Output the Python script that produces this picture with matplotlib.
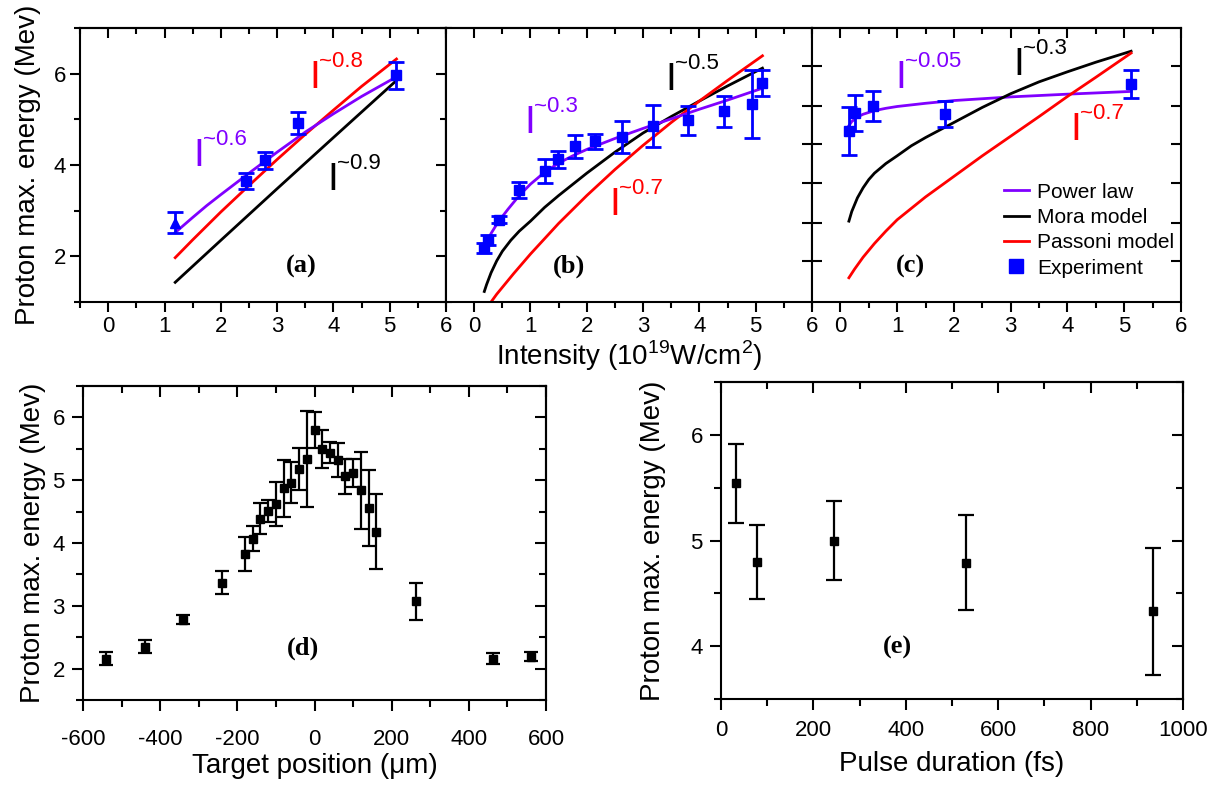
import matplotlib.pyplot as plt
from matplotlib.lines import Line2D
from matplotlib.ticker import MultipleLocator, FixedLocator

plt.rcParams['font.family'] = ['Liberation Sans', 'DejaVu Sans']
plt.rcParams['mathtext.fontset'] = 'custom'
plt.rcParams['mathtext.rm'] = 'Liberation Sans'
plt.rcParams['axes.linewidth'] = 1.5
plt.rcParams['axes.unicode_minus'] = False

PURPLE = '#8000ff'
BLUE = '#0000ff'
RED = '#ff0000'

# ---- (a) intensity scan, first data set
a_tri_x = [1.19]
a_tri_y = [2.74]
a_tri_err = [0.24]
a_exp_x = [2.44, 2.78, 3.375, 5.12]
a_exp_y = [3.65, 4.10, 4.92, 5.96]
a_exp_err = [0.18, 0.18, 0.24, 0.29]
a_pow_x = [1.19, 1.35, 1.5, 1.75, 2.0, 2.5, 3.0, 3.5, 4.0, 4.5, 5.12]
a_pow_y = [2.52, 2.69, 2.85, 3.11, 3.35, 3.82, 4.28, 4.72, 5.12, 5.50, 5.93]
a_mora_x = [1.19, 2.0, 3.0, 4.0, 5.12]
a_mora_y = [1.43, 2.35, 3.48, 4.60, 5.85]
a_pass_x = [1.19, 1.5, 2.0, 2.5, 3.0, 3.5, 4.0, 4.5, 5.12]
a_pass_y = [1.97, 2.36, 2.97, 3.55, 4.12, 4.67, 5.20, 5.72, 6.32]

# ---- (b)
b_exp_x = [0.18, 0.24, 0.44, 0.79, 1.25, 1.48, 1.79, 2.15, 2.62, 3.18, 3.79, 4.44, 4.94, 5.12]
b_exp_y = [2.18, 2.36, 2.80, 3.45, 3.86, 4.12, 4.41, 4.52, 4.61, 4.86, 4.98, 5.18, 5.34, 5.80]
b_exp_err = [0.11, 0.11, 0.08, 0.17, 0.26, 0.19, 0.25, 0.16, 0.35, 0.46, 0.32, 0.34, 0.75, 0.28]
b_pow_x = [0.18, 0.24, 0.3, 0.4, 0.5, 0.6, 0.8, 1.0, 1.25, 1.5, 1.75, 2.0, 2.5, 3.0, 3.5,
           4.0, 4.5, 5.12]
b_pow_y = [2.16, 2.35, 2.50, 2.70, 2.87, 3.03, 3.33, 3.58, 3.84, 4.04, 4.20, 4.34, 4.58,
           4.80, 5.01, 5.22, 5.42, 5.68]
b_mora_x = [0.18, 0.22, 0.3, 0.4, 0.5, 0.65, 0.8, 1.0, 1.25, 1.5, 2.0, 2.5, 3.0, 3.5, 4.0,
            4.5, 5.12]
b_mora_y = [1.23, 1.38, 1.64, 1.90, 2.11, 2.35, 2.55, 2.77, 3.07, 3.33, 3.82, 4.28, 4.70,
            5.06, 5.40, 5.73, 6.12]
b_pass_x = [0.3, 0.4, 0.5, 0.7, 1.0, 1.5, 2.0, 2.5, 3.0, 3.5, 4.0, 4.5, 5.12]
b_pass_y = [1.00, 1.17, 1.32, 1.62, 2.05, 2.72, 3.33, 3.90, 4.43, 4.93, 5.40, 5.85, 6.39]

# ---- (c)
c_exp_x = [0.15, 0.25, 0.58, 1.85, 5.12]
c_exp_y = [4.74, 5.14, 5.30, 5.12, 5.77]
c_exp_err = [0.52, 0.39, 0.33, 0.29, 0.31]
c_pow_x = [0.15, 0.2, 0.3, 0.4, 0.6, 0.8, 1.0, 1.5, 2.0, 3.0, 4.0, 5.12]
c_pow_y = [4.86, 4.95, 5.05, 5.11, 5.19, 5.24, 5.28, 5.35, 5.41, 5.49, 5.55, 5.61]
c_mora_x = [0.15, 0.2, 0.3, 0.4, 0.5, 0.6, 0.8, 1.0, 1.25, 1.5, 2.0, 2.5, 3.0, 3.5, 4.0,
            4.5, 5.12]
c_mora_y = [2.77, 2.98, 3.28, 3.50, 3.68, 3.82, 4.03, 4.20, 4.42, 4.60, 4.93, 5.26, 5.56,
            5.82, 6.04, 6.25, 6.49]
c_pass_x = [0.15, 0.25, 0.4, 0.6, 0.8, 1.0, 1.5, 2.0, 2.5, 3.0, 3.5, 4.0, 4.5, 5.12]
c_pass_y = [1.53, 1.72, 1.98, 2.28, 2.55, 2.80, 3.30, 3.75, 4.20, 4.63, 5.06, 5.50, 5.92,
            6.45]

# ---- (d) target position scan
d_x = [-540, -440, -340, -240, -180, -160, -140, -120, -100, -80, -60, -40, -20, 0,
       20, 40, 60, 80, 100, 120, 140, 160, 262, 463, 561]
d_y = [2.16, 2.35, 2.78, 3.37, 3.82, 4.07, 4.39, 4.51, 4.62, 4.87, 4.96, 5.18, 5.34, 5.80,
       5.50, 5.44, 5.32, 5.06, 5.12, 4.84, 4.56, 4.18, 3.07, 2.16, 2.19]
d_err = [0.10, 0.10, 0.07, 0.18, 0.27, 0.20, 0.24, 0.18, 0.35, 0.46, 0.33, 0.34, 0.76, 0.28,
         0.30, 0.17, 0.27, 0.28, 0.22, 0.61, 0.60, 0.60, 0.30, 0.09, 0.07]

# ---- (e) pulse duration scan
e_x = [32, 77, 245, 530, 935]
e_y = [5.54, 4.80, 5.00, 4.79, 4.33]
e_err = [0.37, 0.35, 0.37, 0.45, 0.60]

# tick positions on the shared spine of (b)/(c)
bc_yticks = [1.89, 2.74, 3.61, 4.45, 5.30, 6.16]

TICK = 16
LABEL = 20
PANEL = 19


def power_label(ax, x, y, txt, color):
    ax.text(x, y, 'I', color=color, fontsize=28, ha='left', va='baseline')
    ax.annotate(txt, (x, y), xytext=(7, 15), textcoords='offset points', color=color,
                fontsize=16, ha='left', va='baseline')


def panel_tag(ax, x, y, txt):
    ax.text(x, y, txt, fontsize=PANEL, fontweight='bold', family='Liberation Serif',
            ha='center', va='center')


def top_panel(ax):
    ax.set_xlim(-0.5, 6)
    ax.set_ylim(1, 7)
    ax.xaxis.set_major_locator(MultipleLocator(1))
    ax.xaxis.set_minor_locator(MultipleLocator(0.5))
    ax.tick_params(axis='x', which='both', direction='out', labelsize=TICK, pad=3, width=1.5)
    ax.tick_params(axis='x', which='major', length=7)
    ax.tick_params(axis='x', which='minor', length=4)
    top = ax.secondary_xaxis('top')
    top.xaxis.set_major_locator(MultipleLocator(1))
    top.xaxis.set_minor_locator(MultipleLocator(0.5))
    top.tick_params(which='both', direction='in', labeltop=False, width=1.5)
    top.tick_params(which='major', length=7)
    top.tick_params(which='minor', length=4)


def bottom_panel(ax, xlim, xmaj, xmin, ylim, yticks, yminor, xpad):
    ax.set_xlim(*xlim)
    ax.set_ylim(*ylim)
    ax.xaxis.set_major_locator(MultipleLocator(xmaj))
    ax.xaxis.set_minor_locator(MultipleLocator(xmin))
    ax.yaxis.set_major_locator(FixedLocator(yticks))
    ax.yaxis.set_minor_locator(FixedLocator(yminor))
    ax.tick_params(which='both', direction='out', labelsize=TICK, width=1.5)
    ax.tick_params(which='major', length=8)
    ax.tick_params(which='minor', length=5)
    ax.tick_params(axis='x', pad=xpad)
    ax.tick_params(axis='y', pad=5)
    top = ax.secondary_xaxis('top')
    top.xaxis.set_major_locator(MultipleLocator(xmaj))
    top.xaxis.set_minor_locator(MultipleLocator(xmin))
    right = ax.secondary_yaxis('right')
    right.yaxis.set_major_locator(FixedLocator(yticks))
    right.yaxis.set_minor_locator(FixedLocator(yminor))
    for s in (top, right):
        s.tick_params(which='both', direction='in', labeltop=False, labelright=False, width=1.5)
        s.tick_params(which='major', length=8)
        s.tick_params(which='minor', length=5)


fig = plt.figure(figsize=(12.24, 7.87), dpi=100)
ax_a = fig.add_axes([0.0654, 0.6163, 0.299, 0.3482])
ax_b = fig.add_axes([0.3644, 0.6163, 0.299, 0.3482])
ax_c = fig.add_axes([0.6634, 0.6163, 0.3015, 0.3482])
ax_d = fig.add_axes([0.0678, 0.1105, 0.3783, 0.399])
ax_e = fig.add_axes([0.589, 0.1118, 0.3775, 0.4028])

eb = dict(color=BLUE, ms=7, capsize=6, elinewidth=2, capthick=2, linestyle='none', zorder=3)

# (a)
ax_a.plot(a_mora_x, a_mora_y, color='black', lw=2)
ax_a.plot(a_pass_x, a_pass_y, color=RED, lw=2)
ax_a.plot(a_pow_x, a_pow_y, color=PURPLE, lw=2)
ax_a.errorbar(a_tri_x, a_tri_y, yerr=a_tri_err, marker='^', **eb)
ax_a.errorbar(a_exp_x, a_exp_y, yerr=a_exp_err, marker='s', **eb)
top_panel(ax_a)
ax_a.yaxis.set_major_locator(FixedLocator([2, 4, 6]))
ax_a.yaxis.set_minor_locator(FixedLocator([1, 3, 5, 7]))
ax_a.tick_params(axis='y', which='both', direction='out', labelsize=TICK, pad=3, width=1.5)
ax_a.tick_params(axis='y', which='major', length=7)
ax_a.tick_params(axis='y', which='minor', length=4)
ra = ax_a.secondary_yaxis('right')
ra.yaxis.set_major_locator(FixedLocator([2, 4, 6]))
ra.yaxis.set_minor_locator(FixedLocator([1, 3, 5, 7]))
ra.tick_params(which='both', direction='inout', labelright=False, width=1.5)
ra.tick_params(which='major', length=14)
ra.tick_params(which='minor', length=8)
ax_a.set_ylabel('Proton max. energy (Mev)', fontsize=LABEL, labelpad=9)
power_label(ax_a, 3.57, 5.69, '~0.8', RED)
power_label(ax_a, 1.51, 3.97, '~0.6', PURPLE)
power_label(ax_a, 3.89, 3.45, '~0.9', 'black')
panel_tag(ax_a, 3.42, 1.78, '(a)')

# (b)
ax_b.plot(b_mora_x, b_mora_y, color='black', lw=2)
ax_b.plot(b_pass_x, b_pass_y, color=RED, lw=2)
ax_b.plot(b_pow_x, b_pow_y, color=PURPLE, lw=2)
ax_b.errorbar(b_exp_x, b_exp_y, yerr=b_exp_err, marker='s', **eb)
top_panel(ax_b)
ax_b.yaxis.set_major_locator(FixedLocator(bc_yticks))
ax_b.yaxis.set_minor_locator(FixedLocator([]))
ax_b.tick_params(axis='y', which='major', direction='in', left=False, right=True,
                 labelleft=False, length=7, width=1.5)
ax_b.set_xlabel('Intensity (10$^{19}$W/cm$^{2}$)', fontsize=LABEL, labelpad=1)
power_label(ax_b, 0.89, 4.70, '~0.3', PURPLE)
power_label(ax_b, 3.40, 5.65, '~0.5', 'black')
power_label(ax_b, 2.40, 2.91, '~0.7', RED)
panel_tag(ax_b, 1.69, 1.78, '(b)')

# (c)
ax_c.plot(c_pow_x, c_pow_y, color=PURPLE, lw=2)
ax_c.plot(c_mora_x, c_mora_y, color='black', lw=2)
ax_c.plot(c_pass_x, c_pass_y, color=RED, lw=2)
ax_c.errorbar(c_exp_x, c_exp_y, yerr=c_exp_err, marker='s', **eb)
top_panel(ax_c)
ax_c.yaxis.set_major_locator(FixedLocator(bc_yticks))
ax_c.yaxis.set_minor_locator(FixedLocator([]))
ax_c.tick_params(axis='y', which='major', direction='in', left=True, right=True,
                 labelleft=False, length=7, width=1.5)
power_label(ax_c, 0.97, 5.69, '~0.05', PURPLE)
power_label(ax_c, 3.04, 5.98, '~0.3', 'black')
power_label(ax_c, 4.05, 4.55, '~0.7', RED)
panel_tag(ax_c, 1.24, 1.78, '(c)')
handles = [Line2D([], [], color=PURPLE, lw=2),
           Line2D([], [], color='black', lw=2),
           Line2D([], [], color=RED, lw=2),
           Line2D([], [], color=BLUE, marker='s', ms=10, linestyle='none')]
ax_c.legend(handles, ['Power law', 'Mora model', 'Passoni model', 'Experiment'],
            loc='upper left', bbox_to_anchor=(0.52, 0.435), frameon=False, fontsize=15,
            handlelength=1.2, handletextpad=0.4, labelspacing=0.3, borderaxespad=0,
            borderpad=0)

# (d)
ax_d.errorbar(d_x, d_y, yerr=d_err, marker='s', color='black', ms=6, capsize=5,
              elinewidth=1.6, capthick=1.6, linestyle='none')
bottom_panel(ax_d, (-600, 600), 200, 100, (1.5, 6.5), [2, 3, 4, 5, 6],
             [1.5, 2.5, 3.5, 4.5, 5.5, 6.5], 13)
ax_d.set_xlabel('Target position (\u03bcm)', fontsize=LABEL, labelpad=2)
ax_d.set_ylabel('Proton max. energy (Mev)', fontsize=LABEL, labelpad=5)
panel_tag(ax_d, -30, 2.33, '(d)')

# (e)
ax_e.errorbar(e_x, e_y, yerr=e_err, marker='s', color='black', ms=6, capsize=6,
              elinewidth=1.6, capthick=1.6, linestyle='none')
bottom_panel(ax_e, (0, 1000), 200, 100, (3.5, 6.5), [4, 5, 6], [3.5, 4.5, 5.5, 6.5], 7)
ax_e.set_xlabel('Pulse duration (fs)', fontsize=LABEL, labelpad=7)
ax_e.set_ylabel('Proton max. energy (Mev)', fontsize=LABEL, labelpad=18)
panel_tag(ax_e, 383, 3.99, '(e)')

fig.savefig('out.png', dpi=100)
